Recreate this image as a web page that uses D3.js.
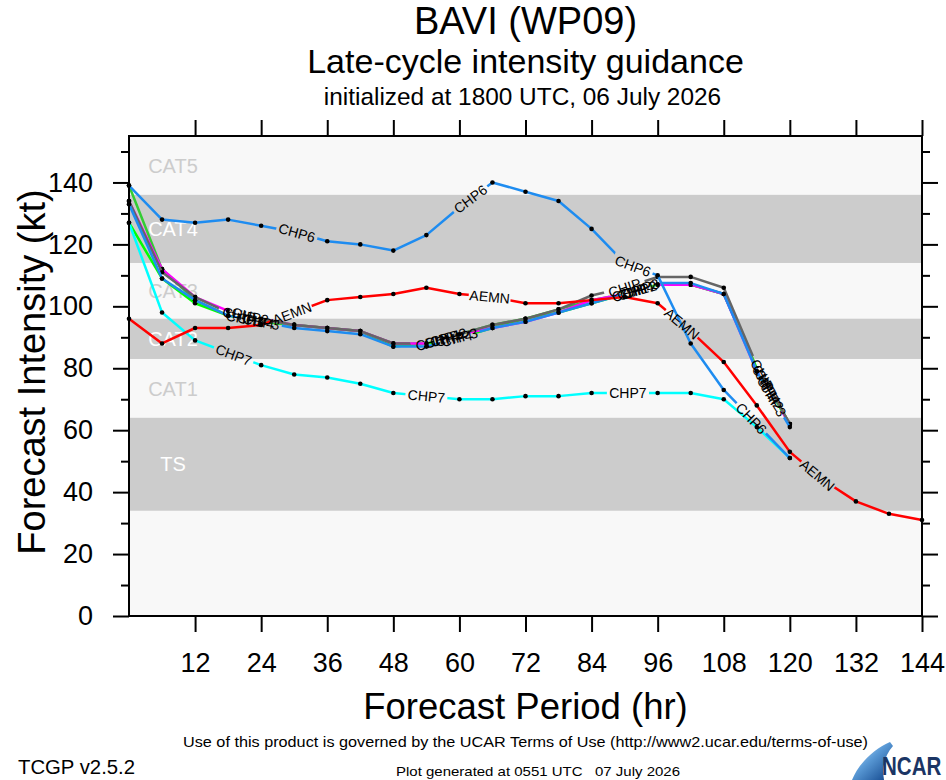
<!DOCTYPE html>
<html>
<head>
<meta charset="utf-8">
<script src="https://cdn.jsdelivr.net/npm/d3@7"></script>
<style>
  body { margin: 0; background: #fff; }
  svg { display: block; font-family: "Liberation Sans", Arial, Helvetica, sans-serif; }
</style>
</head>
<body>
<svg id="chart" width="946" height="780"></svg>
<script>
// forecast hours
const hours = [0,6,12,18,24,30,36,42,48,54,60,66,72,78,84,90,96,102,108,114,120,126,132,138,144]

// intensity (kt) per model, one value per 6 h
const aemn = [96,88,93,93,94,98,102,103,104,106,104,103,101,101,102,103,101,92,82,68,53,44,37,33,31]
const chp6 = [139,128,127,128,126,124,121,120,118,123,132,140,137,134,125,114,110,88,73,62,51]
const chp7 = [127,98,89,85,81,78,77,75,72,71,70,70,71,71,72,72,72,72,70,61,51]
const chip = [134,111,103,98,96,94,93,92,88,88,91,94,96,99,103.5,106,109.5,109.5,106,81,62]
const chp1 = [139,112,102,97,95,94,93,92,88,88,91,94,96,99,102,104,107,107,104,80,62]
const chp2 = [134,112,103,98.5,96,94,93,92,88,88,91,93,95,98,102,104,107,107,104,79,62]
const chp3 = [133,109,102,97,95,93,92,91,87,87,90,93,95,98,101,104,107.5,107.5,104,79,61]
const chp4 = [127,109,101,97,95,94,93,92,87,88,90,93,96,98,101,104,107,107,104,80,62]

// where each model name is written along its line (hours)
const models = [
  {name: 'CHP4', color: '#00ff00', values: chp4, labels: [23, 59, 92, 116]},
  {name: 'CHP1', color: '#33cc33', values: chp1, labels: [21, 57, 91, 115.5]},
  {name: 'CHP2', color: '#ff00ff', values: chp2, labels: [22, 58, 92.5, 116.5]},
  {name: 'CHIP', color: '#666666', values: chip, labels: [20, 55, 90, 115]},
  {name: 'CHP3', color: '#1e8cf0', values: chp3, labels: [24, 60, 93, 117]},
  {name: 'CHP7', color: '#00ffff', values: chp7, labels: [19, 54, 90.6]},
  {name: 'CHP6', color: '#1e8cf0', values: chp6, labels: [30.5, 62, 91.5, 113]},
  {name: 'AEMN', color: '#ff0000', values: aemn, labels: [29.6, 65.5, 100.4, 125]}
]

// Saffir-Simpson bands
const bands = [
  {name: 'TS', lo: 34, hi: 64, dark: true},
  {name: 'CAT1', lo: 64, hi: 83, dark: false},
  {name: 'CAT2', lo: 83, hi: 96, dark: true},
  {name: 'CAT3', lo: 96, hi: 114, dark: false},
  {name: 'CAT4', lo: 114, hi: 136, dark: true},
  {name: 'CAT5', lo: 136, hi: 155, dark: false}
]

const yMajor = [0,20,40,60,80,100,120,140]
const yMinor = [10,30,50,70,90,110,130,150]
const xTicks = [12,24,36,48,60,72,84,96,108,120,132,144]

const svg = d3.select('#chart')
const x = d3.scaleLinear().domain([0, 144]).range([129, 922])
const y = d3.scaleLinear().domain([0, 155]).range([616, 136])

// plot background + bands
svg.append('rect')
  .attr('x', x(0)).attr('y', y(155))
  .attr('width', x(144) - x(0)).attr('height', y(0) - y(155))
  .attr('fill', '#f8f8f8')

svg.selectAll('.band').data(bands.filter(d => d.dark)).enter()
  .append('rect').attr('class', 'band')
  .attr('x', x(0)).attr('y', d => y(d.hi))
  .attr('width', x(144) - x(0)).attr('height', d => y(d.lo) - y(d.hi))
  .attr('fill', '#cccccc')

svg.selectAll('.bandlbl').data(bands).enter()
  .append('text').attr('class', 'bandlbl')
  .attr('x', 173).attr('y', d => y((d.lo + d.hi) / 2))
  .attr('dy', '0.36em')
  .attr('text-anchor', 'middle')
  .attr('font-size', 20)
  .attr('fill', d => d.dark ? '#ffffff' : '#cccccc')
  .text(d => d.name)

// label placement along a line
const labelSize = 14
function labelAt(values, h) {
  let i = Math.min(Math.floor(h / 6), values.length - 2)
  const x0 = x(hours[i]), y0 = y(values[i])
  const x1 = x(hours[i + 1]), y1 = y(values[i + 1])
  const t = (h - hours[i]) / 6
  return {
    cx: x0 + (x1 - x0) * t,
    cy: y0 + (y1 - y0) * t,
    angle: Math.atan2(y1 - y0, x1 - x0) * 180 / Math.PI
  }
}

const defs = svg.append('defs')
const line = d3.line().x((d, i) => x(hours[i])).y(d => y(d))

models.forEach((m, k) => {
  const pos = m.labels.map(h => labelAt(m.values, h))
  m.pos = pos
  const w = m.name.length * labelSize * 0.68 + 4
  const mask = defs.append('mask').attr('id', 'mask' + k)
    .attr('maskUnits', 'userSpaceOnUse')
    .attr('x', 0).attr('y', 0).attr('width', 946).attr('height', 780)
  mask.append('rect').attr('width', 946).attr('height', 780).attr('fill', '#fff')
  mask.selectAll('rect.gap').data(pos).enter()
    .append('rect').attr('class', 'gap')
    .attr('x', -w / 2).attr('y', -8).attr('width', w).attr('height', 16)
    .attr('fill', '#000')
    .attr('transform', d => `translate(${d.cx},${d.cy}) rotate(${d.angle})`)

  const g = svg.append('g').attr('mask', `url(#mask${k})`)
  g.append('path')
    .attr('d', line(m.values))
    .attr('fill', 'none')
    .attr('stroke', m.color)
    .attr('stroke-width', 2.5)
    .attr('stroke-linejoin', 'round')
  g.selectAll('circle').data(m.values).enter()
    .append('circle')
    .attr('cx', (d, i) => x(hours[i]))
    .attr('cy', d => y(d))
    .attr('r', 2.3)
    .attr('fill', '#000')
})

// model name labels
models.forEach(m => {
  svg.selectAll(null).data(m.pos).enter()
    .append('text')
    .attr('transform', d => `translate(${d.cx},${d.cy}) rotate(${d.angle})`)
    .attr('text-anchor', 'middle')
    .attr('dy', '0.36em')
    .attr('font-size', labelSize)
    .attr('fill', '#000')
    .text(m.name)
})

// axes
function styleAxis(g) {
  g.select('.domain').remove()
  g.selectAll('.tick line').attr('stroke', '#000').attr('stroke-width', 2)
  g.selectAll('.tick text').attr('font-size', 27).attr('fill', '#000')
    .attr('font-family', '"Liberation Sans", Arial, sans-serif')
}

svg.append('g').attr('transform', `translate(${x(0)},0)`)
  .call(d3.axisLeft(y).tickValues(yMajor).tickSize(16).tickPadding(20).tickFormat(d3.format('d')))
  .call(styleAxis)
svg.append('g').attr('transform', `translate(${x(0)},0)`)
  .call(d3.axisLeft(y).tickValues(yMinor).tickSize(8).tickFormat(''))
  .call(styleAxis)
svg.append('g').attr('transform', `translate(${x(144)},0)`)
  .call(d3.axisRight(y).tickValues(yMajor).tickSize(16).tickFormat(''))
  .call(styleAxis)
svg.append('g').attr('transform', `translate(${x(144)},0)`)
  .call(d3.axisRight(y).tickValues(yMinor).tickSize(8).tickFormat(''))
  .call(styleAxis)
svg.append('g').attr('transform', `translate(0,${y(0)})`)
  .call(d3.axisBottom(x).tickValues(xTicks).tickSize(16).tickPadding(21))
  .call(styleAxis)
svg.append('g').attr('transform', `translate(0,${y(155)})`)
  .call(d3.axisTop(x).tickValues(xTicks).tickSize(16).tickFormat(''))
  .call(styleAxis)

svg.append('rect')
  .attr('x', x(0)).attr('y', y(155))
  .attr('width', x(144) - x(0)).attr('height', y(0) - y(155))
  .attr('fill', 'none').attr('stroke', '#000').attr('stroke-width', 2)

// titles
const cx = (x(0) + x(144)) / 2
svg.append('text').attr('x', cx).attr('y', 34).attr('text-anchor', 'middle')
  .attr('font-size', 38).text('BAVI (WP09)')
svg.append('text').attr('x', cx).attr('y', 73).attr('text-anchor', 'middle')
  .attr('font-size', 34).text('Late-cycle intensity guidance')
svg.append('text').attr('x', cx - 3).attr('y', 105).attr('text-anchor', 'middle')
  .attr('font-size', 24.4).text('initialized at 1800 UTC, 06 July 2026')

svg.append('text').attr('x', cx).attr('y', 719).attr('text-anchor', 'middle')
  .attr('font-size', 36.5).text('Forecast Period (hr)')
svg.append('text')
  .attr('transform', `translate(45,372) rotate(-90)`)
  .attr('text-anchor', 'middle')
  .attr('font-size', 38).text('Forecast Intensity (kt)')

// footer
svg.append('text').attr('x', 183).attr('y', 747)
  .attr('font-size', 15).attr('textLength', 685).attr('lengthAdjust', 'spacingAndGlyphs')
  .text('Use of this product is governed by the UCAR Terms of Use (http://www2.ucar.edu/terms-of-use)')
svg.append('text').attr('x', 18).attr('y', 774)
  .attr('font-size', 20).attr('textLength', 117).attr('lengthAdjust', 'spacingAndGlyphs')
  .text('TCGP v2.5.2')
svg.append('text').attr('x', 396).attr('y', 776)
  .attr('font-size', 13).attr('textLength', 284).attr('lengthAdjust', 'spacingAndGlyphs')
  .style('white-space', 'pre')
  .text('Plot generated at 0551 UTC   07 July 2026')

// NCAR logo
const grad = defs.append('linearGradient').attr('id', 'swoosh')
  .attr('x1', '0').attr('y1', '0').attr('x2', '1').attr('y2', '1')
grad.append('stop').attr('offset', '0').attr('stop-color', '#e6f0fa')
grad.append('stop').attr('offset', '0.45').attr('stop-color', '#5a9ad6')
grad.append('stop').attr('offset', '1').attr('stop-color', '#0b3f86')
svg.append('path')
  .attr('d', 'M852,780 C858,765 872,750 890,742 L893,746 C884,756 882,768 884,780 Z')
  .attr('fill', 'url(#swoosh)')
svg.append('text')
  .attr('transform', 'translate(882,775) scale(0.79,1)')
  .attr('font-size', 26).attr('font-weight', 'bold').attr('fill', '#1b3564')
  .text('NCAR')
</script>
</body>
</html>
